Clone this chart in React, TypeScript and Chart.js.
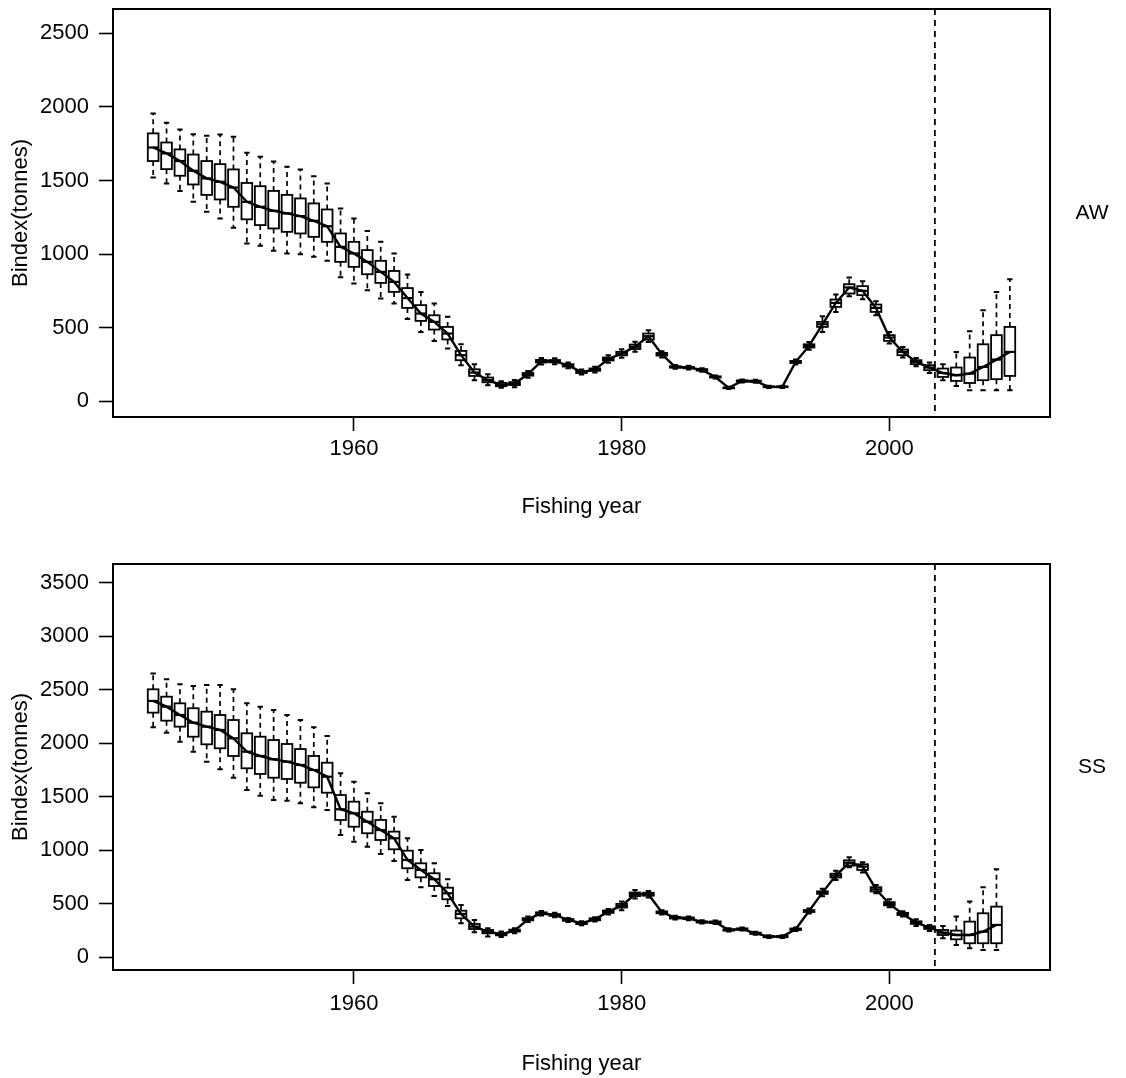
import React, { useEffect, useRef } from 'react';
import { Chart, registerables } from 'chart.js';

Chart.register(...registerables);

// ---------- data ----------
const awYears = [
  1945, 1946, 1947, 1948, 1949, 1950, 1951, 1952, 1953, 1954,
  1955, 1956, 1957, 1958, 1959, 1960, 1961, 1962, 1963, 1964,
  1965, 1966, 1967, 1968, 1969, 1970, 1971, 1972, 1973, 1974,
  1975, 1976, 1977, 1978, 1979, 1980, 1981, 1982, 1983, 1984,
  1985, 1986, 1987, 1988, 1989, 1990, 1991, 1992, 1993, 1994,
  1995, 1996, 1997, 1998, 1999, 2000, 2001, 2002, 2003, 2004,
  2005, 2006, 2007, 2008, 2009,
];
const awLow = [
  1521, 1479, 1429, 1355, 1287, 1242, 1179, 1072, 1056, 1022,
  1004, 999, 981, 954, 842, 800, 755, 698, 664, 558,
  471, 410, 359, 245, 143, 109, 91, 95, 160, 250,
  252, 225, 182, 196, 262, 295, 336, 402, 298, 220,
  216, 201, 155, 83, 128, 126, 90, 90, 250, 350,
  471, 607, 714, 693, 585, 392, 297, 238, 192, 143,
  104, 75, 75, 75, 75,
];
const awQ1 = [
  1632, 1577, 1532, 1473, 1402, 1371, 1321, 1236, 1197, 1174,
  1151, 1140, 1117, 1083, 947, 913, 863, 804, 743, 634,
  546, 487, 420, 279, 172, 129, 102, 110, 174, 263,
  264, 236, 192, 207, 277, 312, 355, 419, 310, 228,
  224, 208, 161, 88, 134, 132, 95, 95, 260, 365,
  505, 641, 732, 721, 607, 410, 313, 252, 211, 165,
  138, 124, 143, 150, 172,
];
const awMedian = [
  1724, 1684, 1632, 1566, 1514, 1491, 1452, 1355, 1321, 1294,
  1276, 1258, 1226, 1189, 1049, 1004, 947, 879, 811, 701,
  596, 539, 460, 313, 195, 143, 111, 120, 183, 272,
  272, 244, 199, 215, 287, 324, 370, 442, 319, 233,
  229, 213, 165, 91, 138, 136, 98, 98, 267, 376,
  523, 668, 773, 750, 634, 433, 335, 267, 229, 192,
  177, 188, 233, 283, 335,
];
const awQ3 = [
  1820, 1758, 1711, 1676, 1632, 1611, 1575, 1483, 1461, 1429,
  1402, 1378, 1344, 1303, 1140, 1083, 1027, 954, 885, 769,
  653, 584, 505, 342, 217, 161, 125, 130, 192, 281,
  280, 252, 206, 223, 297, 336, 385, 460, 328, 238,
  234, 218, 169, 94, 142, 140, 101, 101, 274, 387,
  539, 691, 795, 782, 657, 449, 351, 279, 245, 222,
  229, 297, 387, 449, 505,
];
const awHigh = [
  1955, 1892, 1847, 1814, 1803, 1812, 1797, 1688, 1661, 1629,
  1593, 1575, 1529, 1479, 1310, 1242, 1157, 1083, 1004, 862,
  743, 664, 574, 388, 251, 183, 136, 145, 205, 294,
  292, 263, 216, 234, 312, 353, 404, 483, 340, 246,
  242, 225, 175, 99, 148, 146, 106, 106, 284, 402,
  578, 725, 841, 816, 680, 471, 369, 294, 263, 252,
  335, 476, 619, 743, 829,
];

const ssYears = [
  1945, 1946, 1947, 1948, 1949, 1950, 1951, 1952, 1953, 1954,
  1955, 1956, 1957, 1958, 1959, 1960, 1961, 1962, 1963, 1964,
  1965, 1966, 1967, 1968, 1969, 1970, 1971, 1972, 1973, 1974,
  1975, 1976, 1977, 1978, 1979, 1980, 1981, 1982, 1983, 1984,
  1985, 1986, 1987, 1988, 1989, 1990, 1991, 1992, 1993, 1994,
  1995, 1996, 1997, 1998, 1999, 2000, 2001, 2002, 2003, 2004,
  2005, 2006, 2007, 2008,
];
const ssLow = [
  2149, 2098, 2015, 1921, 1828, 1756, 1678, 1563, 1510, 1470,
  1463, 1439, 1401, 1376, 1143, 1080, 1033, 965, 900, 722,
  654, 573, 479, 318, 234, 193, 190, 225, 330, 390,
  375, 330, 300, 335, 400, 440, 550, 558, 400, 352,
  347, 315, 310, 240, 249, 210, 180, 180, 246, 410,
  570, 722, 841, 791, 598, 467, 380, 292, 246, 177,
  115, 84, 68, 68,
];
const ssQ1 = [
  2286, 2211, 2155, 2061, 1990, 1953, 1881, 1766, 1713, 1678,
  1666, 1631, 1588, 1538, 1283, 1220, 1159, 1096, 1009, 832,
  747, 666, 542, 364, 264, 224, 205, 240, 345, 402,
  387, 341, 310, 346, 415, 465, 572, 575, 411, 362,
  356, 324, 319, 249, 258, 218, 187, 187, 255, 423,
  592, 745, 856, 816, 615, 485, 395, 312, 265, 208,
  168, 131, 131, 131,
];
const ssMedian = [
  2395, 2342, 2264, 2192, 2155, 2124, 2046, 1921, 1881, 1850,
  1828, 1797, 1750, 1687, 1383, 1345, 1267, 1189, 1112, 909,
  816, 729, 598, 405, 286, 239, 215, 249, 355, 411,
  395, 349, 318, 355, 426, 482, 589, 589, 420, 370,
  364, 330, 327, 255, 264, 224, 193, 193, 262, 432,
  604, 763, 884, 847, 635, 498, 405, 324, 277, 230,
  208, 208, 239, 302,
];
const ssQ3 = [
  2504, 2435, 2373, 2327, 2295, 2264, 2217, 2093, 2061, 2030,
  1993, 1946, 1881, 1818, 1516, 1454, 1360, 1283, 1174, 996,
  878, 785, 650, 435, 311, 255, 225, 258, 365, 420,
  403, 357, 326, 364, 437, 499, 605, 603, 429, 378,
  372, 336, 335, 261, 270, 230, 199, 199, 269, 441,
  616, 781, 906, 869, 655, 515, 415, 336, 290, 255,
  249, 333, 411, 473,
];
const ssHigh = [
  2651, 2597, 2551, 2535, 2544, 2544, 2504, 2373, 2342, 2311,
  2264, 2217, 2149, 2068, 1719, 1641, 1532, 1439, 1314, 1112,
  1002, 878, 729, 489, 349, 271, 240, 272, 380, 432,
  415, 368, 336, 375, 452, 520, 628, 620, 440, 388,
  381, 345, 344, 270, 279, 238, 206, 206, 278, 455,
  640, 809, 934, 888, 676, 542, 430, 355, 302, 293,
  380, 520, 654, 822,
];

const xTicks = [1960, 1980, 2000];
const awYTicks = [0, 500, 1000, 1500, 2000, 2500];
const ssYTicks = [0, 500, 1000, 1500, 2000, 2500, 3000, 3500];
const projectionStart = 2003.4;
const xTitle = 'Fishing year';
const yTitle = 'Bindex(tonnes)';

// ---------- styling / layout ----------
const FONT = "'Liberation Sans', Arial, Helvetica, sans-serif";
const FONT_SIZE = 22;
const LABEL_SIZE = 21;
const W = 1126;
const H = 539;

type Panel = {
  label: string;
  years: number[];
  low: number[];
  q1: number[];
  median: number[];
  q3: number[];
  high: number[];
  yTicks: number[];
  yMin: number;
  yMax: number;
  padTop: number;
  xAxisHeight: number;
  xTitlePad: number;
  xTickPad: number;
};

const panels: Panel[] = [
  {
    label: 'AW', years: awYears, low: awLow, q1: awQ1, median: awMedian, q3: awQ3, high: awHigh,
    yTicks: awYTicks, yMin: -107, yMax: 2665, padTop: 9, xAxisHeight: 122, xTitlePad: 19, xTickPad: 5,
  },
  {
    label: 'SS', years: ssYears, low: ssLow, q1: ssQ1, median: ssMedian, q3: ssQ3, high: ssHigh,
    yTicks: ssYTicks, yMin: -119, yMax: 3675, padTop: 25, xAxisHeight: 108, xTitlePad: 1, xTickPad: 7,
  },
];

function makePlugin(p: Panel) {
  return {
    id: 'boxplots' + p.label,
    beforeDatasetsDraw(chart: any) {
      const { ctx } = chart;
      const x = chart.scales.x;
      const y = chart.scales.y;
      ctx.save();
      ctx.strokeStyle = '#000';
      for (let i = 0; i < p.years.length; i++) {
        const yr = p.years[i];
        const xc = x.getPixelForValue(yr);
        const xl = x.getPixelForValue(yr - 0.4);
        const xr = x.getPixelForValue(yr + 0.4);
        const cl = x.getPixelForValue(yr - 0.2);
        const cr = x.getPixelForValue(yr + 0.2);
        const yLo = y.getPixelForValue(p.low[i]);
        const yQ1 = y.getPixelForValue(p.q1[i]);
        const yMd = y.getPixelForValue(p.median[i]);
        const yQ3 = y.getPixelForValue(p.q3[i]);
        const yHi = y.getPixelForValue(p.high[i]);
        // dashed whiskers
        ctx.setLineDash([5, 4]);
        ctx.lineWidth = 1.7;
        ctx.beginPath();
        ctx.moveTo(xc, yQ3);
        ctx.lineTo(xc, yHi);
        ctx.moveTo(xc, yQ1);
        ctx.lineTo(xc, yLo);
        ctx.stroke();
        // caps
        ctx.setLineDash([]);
        ctx.lineWidth = 2;
        ctx.beginPath();
        ctx.moveTo(cl, yHi);
        ctx.lineTo(cr, yHi);
        ctx.moveTo(cl, yLo);
        ctx.lineTo(cr, yLo);
        ctx.stroke();
        // box
        ctx.fillStyle = '#fff';
        ctx.fillRect(xl, yQ3, xr - xl, yQ1 - yQ3);
        ctx.lineWidth = 1.8;
        ctx.strokeRect(xl, yQ3, xr - xl, yQ1 - yQ3);
        // median segment
        ctx.lineWidth = 2.2;
        ctx.beginPath();
        ctx.moveTo(xl, yMd);
        ctx.lineTo(xr, yMd);
        ctx.stroke();
      }
      ctx.restore();
    },
    afterDraw(chart: any) {
      const { ctx, chartArea } = chart;
      const x = chart.scales.x;
      ctx.save();
      ctx.strokeStyle = '#000';
      // dashed projection line
      const xp = x.getPixelForValue(projectionStart);
      ctx.setLineDash([6, 5]);
      ctx.lineWidth = 1.8;
      ctx.beginPath();
      ctx.moveTo(xp, chartArea.top);
      ctx.lineTo(xp, chartArea.bottom);
      ctx.stroke();
      // frame
      ctx.setLineDash([]);
      ctx.lineWidth = 2;
      ctx.strokeRect(chartArea.left, chartArea.top, chartArea.right - chartArea.left, chartArea.bottom - chartArea.top);
      // panel label
      ctx.fillStyle = '#000';
      ctx.font = `${LABEL_SIZE}px ${FONT}`;
      ctx.textAlign = 'center';
      ctx.textBaseline = 'middle';
      ctx.fillText(p.label, 1092, (chartArea.top + chartArea.bottom) / 2);
      ctx.restore();
    },
  };
}

function makeConfig(p: Panel): any {
  const font = { family: FONT, size: FONT_SIZE };
  return {
    type: 'line',
    data: {
      datasets: [
        {
          data: p.years.map((yr, i) => ({ x: yr, y: p.median[i] })),
          borderColor: '#000',
          borderWidth: 2.4,
          pointRadius: 0,
          tension: 0,
          fill: false,
        },
      ],
    },
    options: {
      animation: false,
      responsive: false,
      devicePixelRatio: 1,
      layout: { padding: { top: p.padTop, right: W - 1050, left: 0, bottom: 0 } },
      plugins: { legend: { display: false }, tooltip: { enabled: false } },
      scales: {
        x: {
          type: 'linear',
          min: 1942,
          max: 2012,
          afterBuildTicks: (s: any) => {
            s.ticks = xTicks.map((v) => ({ value: v }));
          },
          afterFit: (s: any) => {
            s.height = p.xAxisHeight;
            s.paddingLeft = 0;
            s.paddingRight = 0;
          },
          grid: { display: true, drawOnChartArea: false, drawTicks: true, tickLength: 14, tickWidth: 1.6, tickColor: '#000' },
          border: { display: false },
          ticks: { color: '#000', font, padding: p.xTickPad, maxRotation: 0, autoSkip: false, callback: (v: any) => String(v) },
          title: { display: true, text: xTitle, color: '#000', font, padding: { top: 0, bottom: p.xTitlePad } },
        },
        y: {
          type: 'linear',
          min: p.yMin,
          max: p.yMax,
          afterBuildTicks: (s: any) => {
            s.ticks = p.yTicks.map((v) => ({ value: v }));
          },
          afterFit: (s: any) => {
            s.width = 113;
            s.paddingTop = 0;
            s.paddingBottom = 0;
          },
          grid: { display: true, drawOnChartArea: false, drawTicks: true, tickLength: 14, tickWidth: 1.6, tickColor: '#000' },
          border: { display: false },
          ticks: { color: '#000', font, padding: 10, autoSkip: false, callback: (v: any) => String(v) },
          title: { display: true, text: yTitle, color: '#000', font, padding: { top: 8, bottom: 0 } },
        },
      },
    },
    plugins: [makePlugin(p)],
  };
}

function PanelChart({ panel, top }: { panel: Panel; top: number }) {
  const ref = useRef<HTMLCanvasElement | null>(null);
  useEffect(() => {
    if (!ref.current) return;
    const chart = new Chart(ref.current, makeConfig(panel));
    return () => chart.destroy();
  }, [panel]);
  return (
    <canvas
      ref={ref}
      width={W}
      height={H}
      style={{ position: 'absolute', left: 0, top, width: W, height: H, display: 'block' }}
    />
  );
}

export default function App() {
  return (
    <div style={{ position: 'absolute', left: 0, top: 0, width: W, height: 1078, background: '#fff' }}>
      <PanelChart panel={panels[0]} top={0} />
      <PanelChart panel={panels[1]} top={H} />
    </div>
  );
}
